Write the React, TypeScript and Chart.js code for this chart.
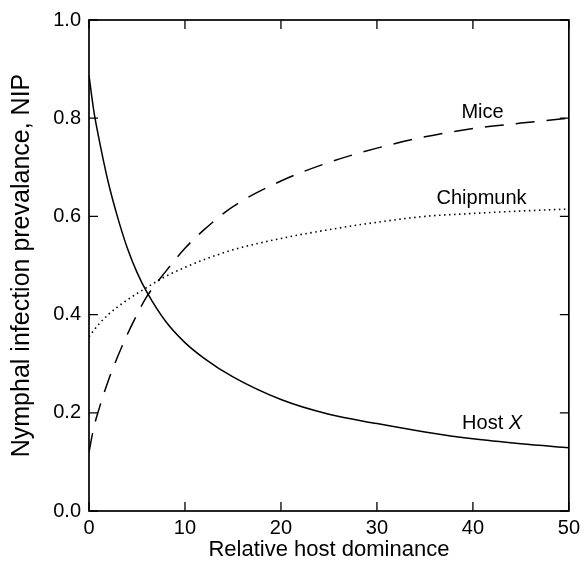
import { useEffect, useRef } from "react";
import { Chart, registerables } from "chart.js";

Chart.register(...registerables);

// Relative host dominance (x) sample points shared by all three curves
const dominance = [0, 0.5, 1, 2, 3, 4, 5, 6, 8, 10, 12, 15, 20, 25, 30, 35, 40, 45, 50];

// Nymphal infection prevalence for each host type
const hostX = [0.887, 0.815, 0.762, 0.67, 0.597, 0.535, 0.486, 0.447, 0.386, 0.343, 0.311, 0.273, 0.227, 0.197, 0.178, 0.161, 0.147, 0.137, 0.129];
const mice = [0.12, 0.17, 0.205, 0.265, 0.315, 0.36, 0.4, 0.436, 0.488, 0.535, 0.573, 0.62, 0.672, 0.71, 0.739, 0.762, 0.779, 0.79, 0.8];
const chipmunk = [0.355, 0.368, 0.38, 0.4, 0.416, 0.43, 0.443, 0.455, 0.478, 0.496, 0.512, 0.532, 0.555, 0.573, 0.588, 0.6, 0.606, 0.611, 0.615];

// Axis ticks
const xTicks = [0, 10, 20, 30, 40, 50];
const yTicks = [0, 0.2, 0.4, 0.6, 0.8, 1.0];

// Curve names placed next to their lines (data coordinates)
const curveNames = [
  { text: "Mice", italic: "", x: 41.0, y: 0.812 },
  { text: "Chipmunk", italic: "", x: 40.9, y: 0.636 },
  { text: "Host ", italic: "X", x: 42.0, y: 0.178 },
];

const FONT = "'Liberation Sans', Arial, Helvetica, sans-serif";
const NAME_SIZE = 20;

const toPoints = (ys: number[]) => dominance.map((x, i) => ({ x, y: ys[i] }));

// Box frame with inward tick marks on all four sides, plus curve names
const framePlugin = {
  id: "frame",
  afterDatasetsDraw(chart: any) {
    const { ctx, chartArea: a, scales } = chart;
    const xs = scales.x;
    const ys = scales.y;
    const tl = 9;
    ctx.save();
    ctx.strokeStyle = "#000";
    ctx.lineWidth = 1.7;
    ctx.strokeRect(a.left, a.top, a.right - a.left, a.bottom - a.top);
    ctx.lineWidth = 1.3;
    ctx.beginPath();
    for (const v of xTicks) {
      const px = xs.getPixelForValue(v);
      ctx.moveTo(px, a.bottom);
      ctx.lineTo(px, a.bottom - tl);
      ctx.moveTo(px, a.top);
      ctx.lineTo(px, a.top + tl);
    }
    for (const v of yTicks) {
      const py = ys.getPixelForValue(v);
      ctx.moveTo(a.left, py);
      ctx.lineTo(a.left + tl, py);
      ctx.moveTo(a.right, py);
      ctx.lineTo(a.right - tl, py);
    }
    ctx.stroke();

    ctx.fillStyle = "#000";
    ctx.textBaseline = "middle";
    ctx.textAlign = "left";
    const upright = `${NAME_SIZE}px ${FONT}`;
    const slanted = `italic ${NAME_SIZE}px ${FONT}`;
    for (const n of curveNames) {
      const cx = xs.getPixelForValue(n.x);
      const cy = ys.getPixelForValue(n.y);
      ctx.font = upright;
      const w1 = ctx.measureText(n.text).width;
      ctx.font = slanted;
      const w2 = n.italic ? ctx.measureText(n.italic).width : 0;
      const start = cx - (w1 + w2) / 2;
      ctx.font = upright;
      ctx.fillText(n.text, start, cy);
      if (n.italic) {
        ctx.font = slanted;
        ctx.fillText(n.italic, start + w1, cy);
      }
    }
    ctx.restore();
  },
};

export default function App() {
  const canvasRef = useRef<HTMLCanvasElement | null>(null);

  useEffect(() => {
    const canvas = canvasRef.current;
    if (!canvas) return;
    const chart = new Chart(canvas, {
      type: "line",
      data: {
        datasets: [
          {
            label: "Host X",
            data: toPoints(hostX),
            borderColor: "#000",
            borderWidth: 1.5,
            pointRadius: 0,
            cubicInterpolationMode: "monotone",
            fill: false,
          },
          {
            label: "Mice",
            data: toPoints(mice),
            borderColor: "#000",
            borderWidth: 1.5,
            borderDash: [19, 12],
            pointRadius: 0,
            cubicInterpolationMode: "monotone",
            fill: false,
          },
          {
            label: "Chipmunk",
            data: toPoints(chipmunk),
            borderColor: "#000",
            borderWidth: 1.6,
            borderDash: [1.5, 3.5],
            pointRadius: 0,
            cubicInterpolationMode: "monotone",
            fill: false,
          },
        ],
      },
      options: {
        responsive: false,
        animation: false,
        events: [],
        layout: { padding: { left: 0, top: 16, right: 11, bottom: 0 } },
        plugins: {
          legend: { display: false },
          tooltip: { enabled: false },
        },
        scales: {
          x: {
            type: "linear",
            min: 0,
            max: 50,
            afterBuildTicks: (s: any) => {
              s.ticks = xTicks.map((value) => ({ value }));
            },
            afterFit: (s: any) => {
              s.height = 52;
            },
            grid: { display: false, drawTicks: false },
            border: { display: false },
            ticks: {
              color: "#000",
              padding: 5,
              maxRotation: 0,
              font: { family: FONT, size: 20 },
              callback: (v: any) => String(v),
            },
            title: {
              display: true,
              text: "Relative host dominance",
              color: "#000",
              font: { family: FONT, size: 22 },
              padding: { top: 0, bottom: 0 },
            },
          },
          y: {
            type: "linear",
            min: 0,
            max: 1,
            afterBuildTicks: (s: any) => {
              s.ticks = yTicks.map((value) => ({ value }));
            },
            afterFit: (s: any) => {
              s.width = 89;
            },
            grid: { display: false, drawTicks: false },
            border: { display: false },
            ticks: {
              color: "#000",
              padding: 8,
              font: { family: FONT, size: 20 },
              callback: (v: any) => Number(v).toFixed(1),
            },
            title: {
              display: true,
              text: "Nymphal infection prevalance, NIP",
              color: "#000",
              font: { family: FONT, size: 25 },
              padding: { top: 7, bottom: 0 },
            },
          },
        },
      },
      plugins: [framePlugin],
    });
    return () => chart.destroy();
  }, []);

  return (
    <div style={{ position: "absolute", left: 0, top: 0, width: 585, height: 563, background: "#fff" }}>
      <canvas ref={canvasRef} width={585} height={563} style={{ display: "block", width: 585, height: 563 }} />
    </div>
  );
}
